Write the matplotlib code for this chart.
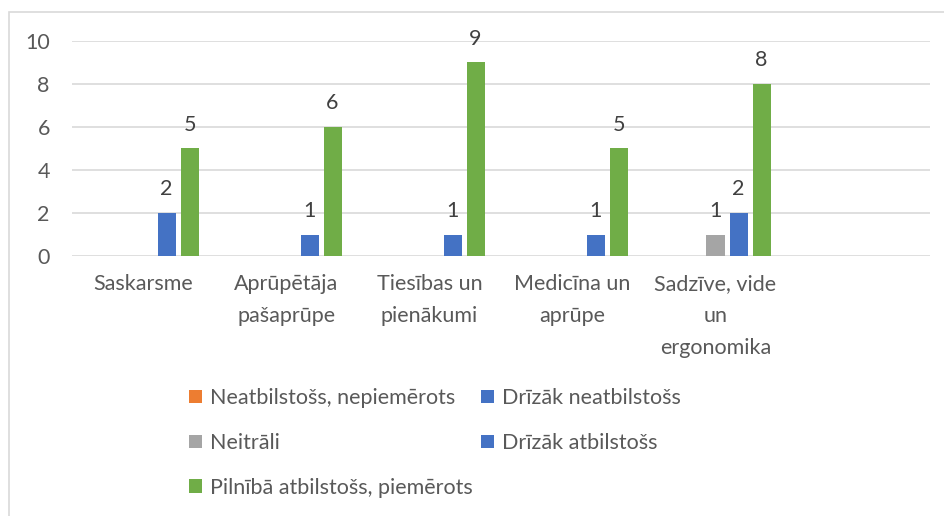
import matplotlib.pyplot as plt
import numpy as np
from matplotlib.patches import Rectangle

plt.rcParams['font.family'] = ['Lato', 'DejaVu Sans']

# kategorijas un sērijas
categories = ['Saskarsme', 'Aprūpētāja\npašaprūpe', 'Tiesības un\npienākumi',
              'Medicīna un\naprūpe', 'Sadzīve, vide\nun\nergonomika']
series_names = ['Neatbilstošs, nepiemērots', 'Drīzāk neatbilstošs', 'Neitrāli',
                'Drīzāk atbilstošs', 'Pilnībā atbilstošs, piemērots']
neatbilstoss = [0, 0, 0, 0, 0]
drizak_neatbilstoss = [0, 0, 0, 0, 0]
neitrali = [0, 0, 0, 0, 1]
drizak_atbilstoss = [2, 1, 1, 1, 2]
pilniba_atbilstoss = [5, 6, 9, 5, 8]
colors = ['#ED7D31', '#4472C4', '#A5A5A5', '#4472C4', '#70AD47']

series = [neatbilstoss, drizak_neatbilstoss, neitrali, drizak_atbilstoss, pilniba_atbilstoss]

fs = 15.5
fig = plt.figure(figsize=(9.45, 5.16), dpi=100)
ax = fig.add_axes([72 / 945, 1 - 256 / 516, (930 - 72) / 945, (256 - 41) / 516])

# rāmis ap attēlu
fig.patches.append(Rectangle((9 / 945, -0.1), 1.2, 1 - 12 / 516 + 0.1,
                             transform=fig.transFigure, fill=False,
                             edgecolor='#D9D9D9', linewidth=1.2))

x = np.arange(len(categories))
step = 0.161
width = 0.126
handles = []
for i, (vals, name, c) in enumerate(zip(series, series_names, colors)):
    pos = x + (i - 2) * step
    bars = ax.bar(pos, vals, width, color=c, label=name, zorder=3)
    handles.append(bars)
    for p, v in zip(pos, vals):
        if v > 0:
            ax.annotate(str(v), (p, v), xytext=(0, 10), textcoords='offset points',
                        ha='center', va='bottom', fontsize=fs, color='#404040')

ax.set_xlim(-0.5, 5.5)
ax.set_ylim(0, 10)
ax.set_yticks([0, 2, 4, 6, 8, 10])
ax.set_xticks(x)
ax.set_xticklabels(categories)
for t in ax.xaxis.get_major_ticks():
    t.label1.set_linespacing(1.75)
ax.grid(axis='y', color='#D9D9D9', linewidth=1.2, zorder=0)
for s in ax.spines.values():
    s.set_visible(False)
ax.tick_params(axis='both', length=0, labelsize=fs, colors='#595959')
ax.tick_params(axis='y', pad=16)
ax.tick_params(axis='x', pad=13)

order = [0, 2, 4, 1, 3]
fig.legend([handles[k] for k in order], [series_names[k] for k in order],
           ncol=2, loc='center', bbox_to_anchor=(435 / 945, 1 - 443 / 516),
           frameon=False, fontsize=fs, labelcolor='#595959',
           handlelength=0.6, handleheight=0.6, handletextpad=0.35,
           labelspacing=1.15, columnspacing=0.4, borderpad=0)

fig.savefig('out.png', dpi=100)
